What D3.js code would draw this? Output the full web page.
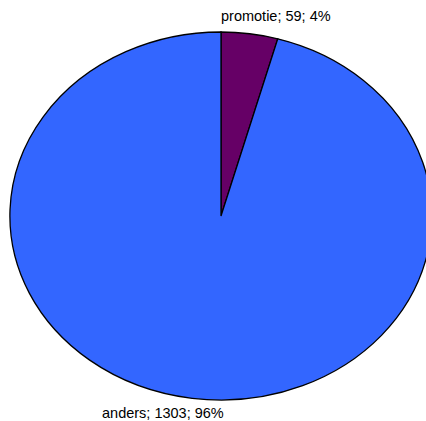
<!DOCTYPE html>
<html><head><meta charset="utf-8">
<script src="https://cdn.jsdelivr.net/npm/d3@7"></script>
<style>html,body{margin:0;padding:0;background:#fff;overflow:hidden}</style>
</head><body>
<svg id="c" width="426" height="421"></svg>
<script>
const categories = ["promotie", "anders"];
const values = [59, 1303];
const percents = ["4%", "96%"];
const colors = ["#660066", "#3366FF"];

const svg = d3.select("#c");
const cx = 221, cy = 216, rx = 211, ry = 184;
const data = categories.map((c, i) => ({cat: c, value: values[i], pct: percents[i], color: colors[i]}));
const pie = d3.pie().sort(null).value(d => d.value);
const arc = d3.arc().innerRadius(0).outerRadius(1);
const g = svg.append("g").attr("transform", `translate(${cx},${cy}) scale(${rx},${ry})`);
g.selectAll("path").data(pie(data)).enter().append("path")
  .attr("d", arc)
  .attr("fill", d => d.data.color)
  .attr("stroke", "#000")
  .attr("stroke-width", 1.3)
  .attr("vector-effect", "non-scaling-stroke");

svg.append("text").attr("x", 221).attr("y", 21)
  .attr("font-family", "Liberation Sans, Arial, sans-serif").attr("font-size", 14.5)
  .text(`${data[0].cat}; ${data[0].value}; ${data[0].pct}`);
svg.append("text").attr("x", 102).attr("y", 418)
  .attr("font-family", "Liberation Sans, Arial, sans-serif").attr("font-size", 14.5)
  .text(`${data[1].cat}; ${data[1].value}; ${data[1].pct}`);
</script>
</body></html>
